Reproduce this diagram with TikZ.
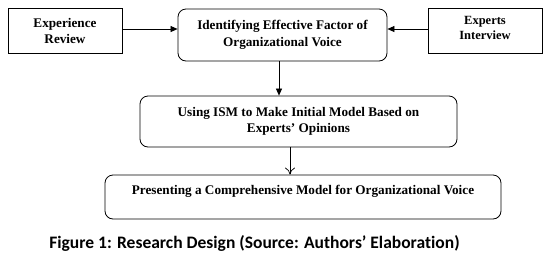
\documentclass[tikz,border=0pt]{standalone}
\usepackage{fontspec}
\setmainfont{Liberation Serif}
\newfontfamily\capfont[Ligatures=NoCommon]{Carlito}
\usetikzlibrary{arrows.meta,calc}
\begin{document}
\begin{tikzpicture}[x=1pt,y=-1pt,
  sqbox/.style={draw=black,line width=0.8pt,inner sep=0pt,align=center,font=\bfseries\fontsize{13.2}{16.5}\selectfont},
  rbox/.style={sqbox,rounded corners=8pt},
  fillarrow/.style={line width=0.7pt,-{Triangle[length=7pt,width=6pt]}},
  openarrow/.style={line width=0.7pt,-{To[length=7pt,width=10pt]}}]
\useasboundingbox (0,0) rectangle (549,258);
\node[sqbox,minimum width=114pt,minimum height=45pt] (exp) at (65,31) {Experience\\Review};
\node[rbox,minimum width=209pt,minimum height=52pt] (ident) at (282.5,35) {Identifying Effective Factor of\\Organizational Voice};
\node[sqbox,minimum width=114pt,minimum height=45pt,font=\bfseries\fontsize{12.5}{15}\selectfont,text depth=6pt] (expt) at (485,31) {Experts\\Interview};
\node[rbox,minimum width=317pt,minimum height=51pt] (ism) at (298.5,121.5) {Using ISM to Make Initial Model Based on\\Experts’ Opinions};
\node[rbox,minimum width=396pt,minimum height=44pt,text depth=13.5pt] (pres) at (303,197) {Presenting a Comprehensive Model for Organizational Voice};
\node[font=\capfont\bfseries\fontsize{17.5}{20}\selectfont] (cap) at (254.5,243) {Figure 1: Research Design (Source: Authors’ Elaboration)};
\coordinate (h) at (0,29);
\coordinate (v1) at (279,0);
\coordinate (v2) at (290,0);
\draw[fillarrow] (exp.east |- h) -- (ident.west |- h);
\draw[fillarrow] (expt.west |- h) -- (ident.east |- h);
\draw[fillarrow] (v1 |- ident.south) -- (v1 |- ism.north);
\draw[openarrow] (v2 |- ism.south) -- (v2 |- pres.north);
\end{tikzpicture}
\end{document}
